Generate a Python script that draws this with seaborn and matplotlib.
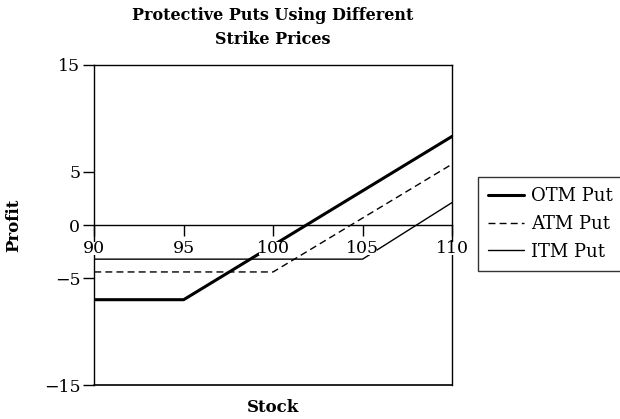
import matplotlib
matplotlib.use("Agg")
import matplotlib.pyplot as plt
import seaborn as sns
import pandas as pd

# Data
stock_otm = [90, 95, 110]
profit_otm = [-7.0, -7.0, 8.3]
stock_atm = [90, 100, 110]
profit_atm = [-4.4, -4.4, 5.7]
stock_itm = [90, 105, 110]
profit_itm = [-3.2, -3.2, 2.1]
x_ticks = [90, 95, 100, 105, 110]
y_ticks = [-15, -5, 0, 5, 15]
series_names = ["OTM Put", "ATM Put", "ITM Put"]

frames = []
for name, xs, ys in zip(series_names, [stock_otm, stock_atm, stock_itm],
                        [profit_otm, profit_atm, profit_itm]):
    frames.append(pd.DataFrame({"Stock": xs, "Profit": ys, "Series": name}))
df = pd.concat(frames, ignore_index=True)

sns.set_theme(style="white")
plt.rcParams["font.family"] = ["DejaVu Serif"]
plt.rcParams["axes.unicode_minus"] = True

fig = plt.figure(figsize=(6.2, 4.19), dpi=100)
ax = fig.add_axes([0.152, 0.081, 0.577, 0.764])

styles = {"OTM Put": dict(lw=2.2, ls="-"),
          "ATM Put": dict(lw=1.0, ls=(0, (5, 3))),
          "ITM Put": dict(lw=1.0, ls="-")}
for name in series_names:
    sub = df[df["Series"] == name]
    sns.lineplot(data=sub, x="Stock", y="Profit", ax=ax, color="black",
                 label=name, estimator=None, sort=False, zorder=2,
                 linewidth=styles[name]["lw"], linestyle=styles[name]["ls"])

ax.set_xlim(90, 110)
ax.set_ylim(-15, 15)

for s in ax.spines.values():
    s.set_color("black")
    s.set_linewidth(1.0)
ax.spines["bottom"].set_position(("data", 0))
ax.axhline(-15, color="black", lw=1.2, clip_on=False, zorder=3)

ax.set_xticks(x_ticks)
ax.set_yticks(y_ticks)
ax.set_yticklabels([("\u2212" + str(abs(v))) if v < 0 else str(v) for v in y_ticks])
ax.tick_params(axis="x", direction="out", bottom=True, length=8, width=1,
               color="black", labelsize=12.5, pad=3.0, labelcolor="black")
ax.tick_params(axis="y", direction="out", left=True, length=8, width=1,
               color="black", labelsize=12.5, pad=2, labelcolor="black")
ax.set_axisbelow(False)
for lbl in ax.get_xticklabels():
    lbl.set_bbox(dict(facecolor="white", edgecolor="none", pad=-1.5))

ax.set_xlabel("Stock", fontsize=12, fontweight="bold", color="black")
ax.set_ylabel("Profit", fontsize=12, fontweight="bold", color="black")
ax.yaxis.set_label_coords(-0.2, 0.5)
ax.set_title("Protective Puts Using Different\nStrike Prices", fontsize=11.5,
             fontweight="bold", color="black", pad=15, linespacing=1.55)

leg = ax.legend(loc="upper left", bbox_to_anchor=(1.072, 0.65), frameon=True,
                fancybox=False, edgecolor="black", fontsize=13,
                handlelength=2.0, handletextpad=0.4, borderpad=0.55,
                labelspacing=0.55, borderaxespad=0)
leg.get_frame().set_linewidth(1.0)
for t in leg.get_texts():
    t.set_color("black")

fig.canvas.draw()
ax.xaxis.set_label_coords(0.5, -0.045)

fig.savefig("out.png", dpi=100)
